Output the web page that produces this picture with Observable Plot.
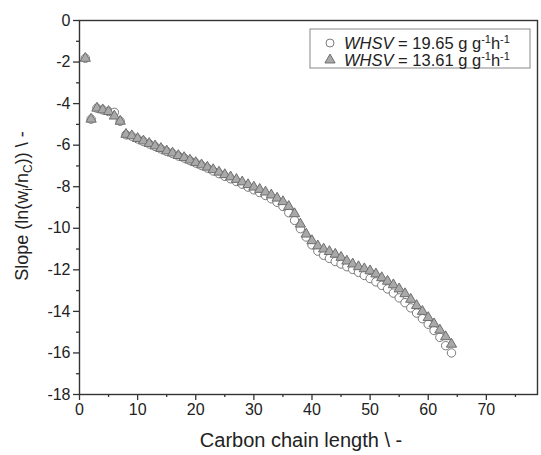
<!DOCTYPE html>
<html>
<head>
<meta charset="utf-8">
<script src="https://cdn.jsdelivr.net/npm/d3@7"></script>
<script src="https://cdn.jsdelivr.net/npm/@observablehq/plot@0.6"></script>
<style>
  html, body { margin: 0; padding: 0; background: #fff; }
  #chart svg { display: block; }
</style>
</head>
<body>
<div id="chart"></div>
<script>
// Carbon chain length (x positions)
const carbon = [1,2,3,4,5,6,7,8,9,10,11,12,13,14,15,16,17,18,19,20,21,22,23,24,25,26,27,28,29,30,31,32,
  33,34,35,36,37,38,39,40,41,42,43,44,45,46,47,48,49,50,51,52,53,54,55,56,57,58,59,60,61,62,63,64];

// WHSV = 19.65 g g-1 h-1 (open circles)
const slope1965 = [-1.82,-4.75,-4.22,-4.30,-4.38,-4.42,-4.85,-5.50,-5.57,-5.70,-5.82,-5.94,-6.06,-6.18,-6.30,-6.40,
  -6.52,-6.62,-6.74,-6.86,-6.98,-7.10,-7.24,-7.37,-7.50,-7.62,-7.75,-7.88,-8.02,-8.15,-8.28,-8.42,
  -8.58,-8.75,-8.95,-9.25,-9.62,-10.02,-10.42,-10.80,-11.10,-11.30,-11.45,-11.60,-11.72,-11.85,-11.98,-12.12,
  -12.27,-12.42,-12.58,-12.75,-12.92,-13.12,-13.35,-13.58,-13.83,-14.08,-14.35,-14.62,-14.92,-15.25,-15.65,-16.00];

// WHSV = 13.61 g g-1 h-1 (grey triangles)
const slope1361 = [-1.82,-4.75,-4.22,-4.30,-4.38,-4.60,-4.85,-5.48,-5.55,-5.68,-5.80,-5.92,-6.04,-6.16,-6.28,-6.38,
  -6.50,-6.60,-6.72,-6.84,-6.95,-7.06,-7.18,-7.30,-7.42,-7.53,-7.65,-7.77,-7.90,-8.02,-8.13,-8.26,
  -8.40,-8.55,-8.72,-8.95,-9.30,-9.80,-10.28,-10.60,-10.85,-11.00,-11.12,-11.25,-11.40,-11.58,-11.72,-11.85,
  -11.95,-12.05,-12.20,-12.38,-12.55,-12.72,-12.92,-13.15,-13.42,-13.72,-14.00,-14.30,-14.60,-14.90,-15.22,-15.58];

const xMajor = [0,10,20,30,40,50,60,70];
const xMinor = [5,15,25,35,45,55,65,75];
const yMajor = [0,-2,-4,-6,-8,-10,-12,-14,-16,-18];
const yMinor = [-1,-3,-5,-7,-9,-11,-13,-15,-17];

const seriesA = carbon.map((c, i) => ({c, s: slope1965[i]}));
const seriesB = carbon.map((c, i) => ({c, s: slope1361[i]}));

const font = "'Liberation Sans', Arial, sans-serif";
const axisColor = "#333";

const svg = Plot.plot({
  width: 541,
  height: 455,
  marginLeft: 79,
  marginRight: 4,
  marginTop: 20,
  marginBottom: 61,
  style: {fontFamily: font, fontSize: "16px", color: "#222", background: "#fff"},
  x: {domain: [0, 78.8]},
  y: {domain: [-18, 0]},
  marks: [
    Plot.axisX({ticks: xMajor, tickSize: 6, tickPadding: 3, tickFormat: d => String(d), label: null, stroke: axisColor, strokeWidth: 1.3}),
    Plot.axisX({ticks: xMinor, tickSize: 3, tickFormat: () => "", label: null, stroke: axisColor, strokeWidth: 1.3}),
    Plot.axisY({ticks: yMajor, tickSize: 6, tickPadding: 3, tickFormat: d => String(d), label: null, stroke: axisColor, strokeWidth: 1.3}),
    Plot.axisY({ticks: yMinor, tickSize: 3, tickFormat: () => "", label: null, stroke: axisColor, strokeWidth: 1.3}),
    Plot.dot(seriesA, {x: "c", y: "s", r: 4.2, fill: "#fff", stroke: "#7a7a7a", strokeWidth: 1}),
    Plot.dot(seriesB, {x: "c", y: "s", symbol: "triangle", r: 3.8, fill: "#a9a9a9", stroke: "#6e6e6e", strokeWidth: 1}),
    Plot.frame({stroke: axisColor, strokeWidth: 1.4})
  ]
});

const s = d3.select(svg);

// X axis title
s.append("text")
  .attr("x", 301).attr("y", 447)
  .attr("text-anchor", "middle")
  .attr("font-family", font).attr("font-size", 20).attr("fill", "#222")
  .text("Carbon chain length \\ -");

// Y axis title with subscripts
const yt = s.append("text")
  .attr("transform", "translate(28,206) rotate(-90)")
  .attr("text-anchor", "middle")
  .attr("font-family", font).attr("font-size", 18).attr("fill", "#222");
yt.append("tspan").text("Slope (ln(w");
yt.append("tspan").attr("font-size", 12).attr("dy", 4).text("i");
yt.append("tspan").attr("dy", -4).text("/n");
yt.append("tspan").attr("font-size", 12).attr("dy", 4).text("C");
yt.append("tspan").attr("dy", -4).text(")) \\ -");

// Legend
const lg = s.append("g");
lg.append("rect").attr("x", 310).attr("y", 29).attr("width", 220).attr("height", 39)
  .attr("fill", "#fff").attr("stroke", "#888").attr("stroke-width", 1);
const legendItems = [
  {label: "19.65", y: 44, kind: "circle"},
  {label: "13.61", y: 61, kind: "triangle"}
];
legendItems.forEach(it => {
  if (it.kind === "circle") {
    lg.append("circle").attr("cx", 330).attr("cy", it.y - 1).attr("r", 4)
      .attr("fill", "#fff").attr("stroke", "#7a7a7a");
  } else {
    lg.append("path").attr("transform", `translate(330,${it.y - 1})`)
      .attr("d", d3.symbol(d3.symbolTriangle, Math.PI * 3.8 * 3.8)())
      .attr("fill", "#a9a9a9").attr("stroke", "#6e6e6e");
  }
  const t = lg.append("text").attr("x", 344).attr("y", it.y + 5)
    .attr("text-anchor", "start")
    .attr("font-family", font).attr("font-size", 16.5).attr("fill", "#222");
  t.append("tspan").attr("font-style", "italic").text("WHSV");
  t.append("tspan").text(" = " + it.label + " g g");
  t.append("tspan").attr("font-size", 11).attr("dy", -6).text("-1");
  t.append("tspan").attr("dy", 6).text("h");
  t.append("tspan").attr("font-size", 11).attr("dy", -6).text("-1");
});

document.getElementById("chart").appendChild(svg);
</script>
</body>
</html>
